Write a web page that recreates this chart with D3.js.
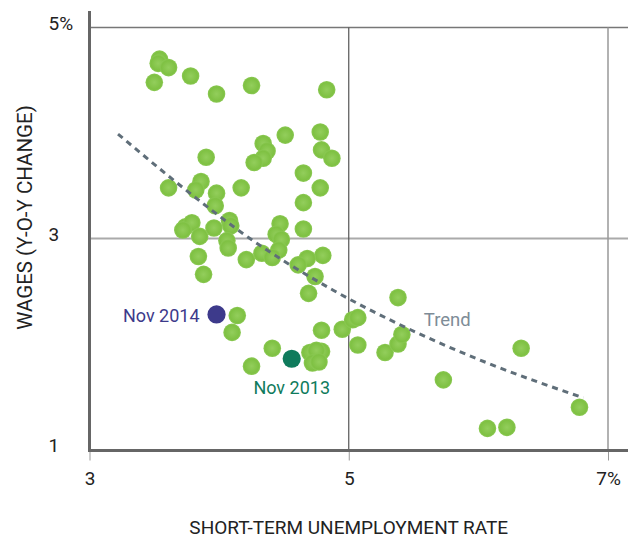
<!DOCTYPE html>
<html>
<head>
<meta charset="utf-8">
<script src="https://cdn.jsdelivr.net/npm/d3@7"></script>
<style>
  body { margin: 0; background: #fff; }
  svg text { font-family: Roboto, "Noto Sans", sans-serif; }
</style>
</head>
<body>
<div id="chart"></div>
<script>
// short-term unemployment rate (%) vs wage growth (y-o-y %)
const unemployment = [
  3.54, 3.53, 3.61, 3.78, 3.50, 3.98, 4.25, 4.83,
  4.51, 4.78, 4.34, 4.37, 4.34, 4.27, 4.79, 4.87, 3.90, 4.65, 4.78, 4.65, 3.61, 3.86, 3.82, 3.98, 3.97, 4.17,
  3.74, 3.79, 3.85, 3.72, 3.96, 4.08, 4.09, 4.06, 4.07, 3.84, 3.88, 4.21, 4.33, 4.47, 4.44, 4.48, 4.46, 4.41,
  4.65, 4.80, 4.68, 4.61, 4.74, 4.69,
  4.14, 4.10, 4.41, 4.25, 4.70, 4.79, 4.75, 4.72, 4.77, 4.79, 4.95, 5.03, 5.07, 5.07, 5.28, 5.38, 5.38, 5.41,
  5.73, 6.33, 6.07, 6.22, 6.78
];
const wages = [
  4.70, 4.66, 4.62, 4.54, 4.48, 4.37, 4.45, 4.41,
  3.98, 4.01, 3.90, 3.83, 3.76, 3.72, 3.84, 3.76, 3.77, 3.62, 3.48, 3.34, 3.48, 3.54, 3.46, 3.43, 3.31, 3.48,
  3.11, 3.15, 3.02, 3.08, 3.10, 3.17, 3.12, 2.98, 2.91, 2.83, 2.66, 2.80, 2.86, 3.14, 3.04, 2.99, 2.89, 2.82,
  3.09, 2.84, 2.81, 2.75, 2.64, 2.48,
  2.27, 2.11, 1.96, 1.79, 1.92, 1.93, 1.94, 1.82, 1.83, 2.13, 2.14, 2.23, 2.25, 1.99, 1.92, 2.44, 2.00, 2.09,
  1.66, 1.96, 1.20, 1.21, 1.40
];

// highlighted months
const highlightLabels = ["Nov 2014", "Nov 2013"];
const highlightX = [3.98, 4.56];
const highlightY = [2.28, 1.86];

// dotted trend line
const trendX = [3.22, 3.93, 4.18, 4.88, 5.40, 6.09, 6.81];
const trendY = [3.99, 3.28, 3.05, 2.51, 2.18, 1.81, 1.49];
const trendLabel = "Trend";
const trendLabelPos = [5.76, 2.17];

const xTicks = [3, 5, 7];
const yTicks = [1, 3, 5];
const xTitle = "SHORT-TERM UNEMPLOYMENT RATE";
const yTitle = "WAGES (Y-O-Y CHANGE)";

const width = 628;
const height = 537;
const radius = 8.8;

const svg = d3
  .select("#chart")
  .append("svg")
  .attr("width", width)
  .attr("height", height);

const xScale = d3.scaleLinear().domain([3, 7]).range([89.5, 608]);
const yScale = d3.scaleLinear().domain([1, 5]).range([449.5, 27.5]);

// gradient for the green dots
const defs = svg.append("defs");
const grad = defs
  .append("radialGradient")
  .attr("id", "dotGrad")
  .attr("cx", "50%")
  .attr("cy", "50%")
  .attr("r", "50%");
grad.append("stop").attr("offset", "0%").attr("stop-color", "#93ce5c");
grad.append("stop").attr("offset", "80%").attr("stop-color", "#7fc143");
grad.append("stop").attr("offset", "100%").attr("stop-color", "#8bc954");

// gridlines
svg
  .append("line")
  .attr("x1", xScale(3))
  .attr("x2", width)
  .attr("y1", yScale(5))
  .attr("y2", yScale(5))
  .attr("stroke", "#777")
  .attr("stroke-width", 1.5);

svg
  .append("line")
  .attr("x1", xScale(3))
  .attr("x2", width)
  .attr("y1", yScale(3))
  .attr("y2", yScale(3))
  .attr("stroke", "#aaa")
  .attr("stroke-width", 2);

svg
  .append("line")
  .attr("x1", xScale(5))
  .attr("x2", xScale(5))
  .attr("y1", yScale(5))
  .attr("y2", yScale(1))
  .attr("stroke", "#555")
  .attr("stroke-width", 1.2);

svg
  .append("line")
  .attr("x1", xScale(7))
  .attr("x2", xScale(7))
  .attr("y1", yScale(5))
  .attr("y2", yScale(1))
  .attr("stroke", "#999")
  .attr("stroke-width", 1.5);

// axes
const xAxis = d3
  .axisBottom(xScale)
  .tickValues(xTicks)
  .tickSize(10)
  .tickFormat((d) => (d === 7 ? "7%" : d));

const yAxis = d3
  .axisLeft(yScale)
  .tickValues(yTicks)
  .tickSize(0)
  .tickFormat((d) => (d === 5 ? "5%" : d));

svg
  .append("g")
  .attr("class", "axis x-axis")
  .attr("transform", `translate(0,${yScale(1) + 1})`)
  .call(xAxis)
  .call((g) => g.select(".domain").remove())
  .call((g) => g.selectAll(".tick line").attr("stroke", "#999"))
  .call((g) =>
    g
      .selectAll(".tick text")
      .attr("y", 21)
      .attr("fill", "#222")
      .style("font-size", "19px")
  );

svg
  .append("g")
  .attr("class", "axis y-axis")
  .attr("transform", `translate(${xScale(3)},0)`)
  .call(yAxis)
  .call((g) => g.select(".domain").remove())
  .call((g) =>
    g
      .selectAll(".tick text")
      .attr("x", -41)
      .attr("y", -4.5)
      .attr("text-anchor", "start")
      .attr("fill", "#222")
      .style("font-size", "19px")
  );

// heavy axis lines
svg
  .append("line")
  .attr("x1", xScale(3) - 1.5)
  .attr("x2", width)
  .attr("y1", yScale(1) + 1)
  .attr("y2", yScale(1) + 1)
  .attr("stroke", "#666")
  .attr("stroke-width", 3);

svg
  .append("line")
  .attr("x1", xScale(3))
  .attr("x2", xScale(3))
  .attr("y1", 11)
  .attr("y2", yScale(1) + 2.5)
  .attr("stroke", "#666")
  .attr("stroke-width", 3);

// axis titles
svg
  .append("text")
  .attr("x", (xScale(3) + xScale(7)) / 2)
  .attr("y", 533.5)
  .attr("text-anchor", "middle")
  .attr("fill", "#222")
  .style("font-size", "19px")
  .text(xTitle);

svg
  .append("text")
  .attr("transform", `translate(31.5,${yScale(3) - 21}) rotate(-90)`)
  .attr("text-anchor", "middle")
  .attr("fill", "#222")
  .style("font-size", "20.5px")
  .text(yTitle);

// green dots
const points = unemployment.map((u, i) => ({ x: u, y: wages[i] }));

svg
  .selectAll(".dot")
  .data(points)
  .join("circle")
  .attr("class", "dot")
  .attr("cx", (d) => xScale(d.x))
  .attr("cy", (d) => yScale(d.y))
  .attr("r", radius)
  .attr("fill", "url(#dotGrad)");

// trend line on top of dots
const trend = trendX.map((t, i) => [t, trendY[i]]);
const line = d3
  .line()
  .x((d) => xScale(d[0]))
  .y((d) => yScale(d[1]))
  .curve(d3.curveMonotoneX);

svg
  .append("path")
  .datum(trend)
  .attr("d", line)
  .attr("fill", "none")
  .attr("stroke", "#5f6e79")
  .attr("stroke-width", 3)
  .attr("stroke-dasharray", "6,5");

svg
  .append("text")
  .attr("x", xScale(trendLabelPos[0]))
  .attr("y", yScale(trendLabelPos[1]))
  .attr("text-anchor", "middle")
  .attr("fill", "#7e8c97")
  .style("font-size", "18.5px")
  .text(trendLabel);

// highlighted months
const highlightColors = ["#3d3a8b", "#0f7b5c"];

svg
  .selectAll(".highlight")
  .data(highlightLabels)
  .join("circle")
  .attr("class", "highlight")
  .attr("cx", (d, i) => xScale(highlightX[i]))
  .attr("cy", (d, i) => yScale(highlightY[i]))
  .attr("r", radius + 0.3)
  .attr("fill", (d, i) => highlightColors[i]);

// Nov 2014 label sits to the left, Nov 2013 below
svg
  .append("text")
  .attr("x", xScale(highlightX[0]) - 17)
  .attr("y", yScale(highlightY[0]) + 7.5)
  .attr("text-anchor", "end")
  .attr("fill", highlightColors[0])
  .style("font-size", "18px")
  .text(highlightLabels[0]);

svg
  .append("text")
  .attr("x", xScale(highlightX[1]))
  .attr("y", yScale(highlightY[1]) + 35.5)
  .attr("text-anchor", "middle")
  .attr("fill", highlightColors[1])
  .style("font-size", "18px")
  .text(highlightLabels[1]);
</script>
</body>
</html>
